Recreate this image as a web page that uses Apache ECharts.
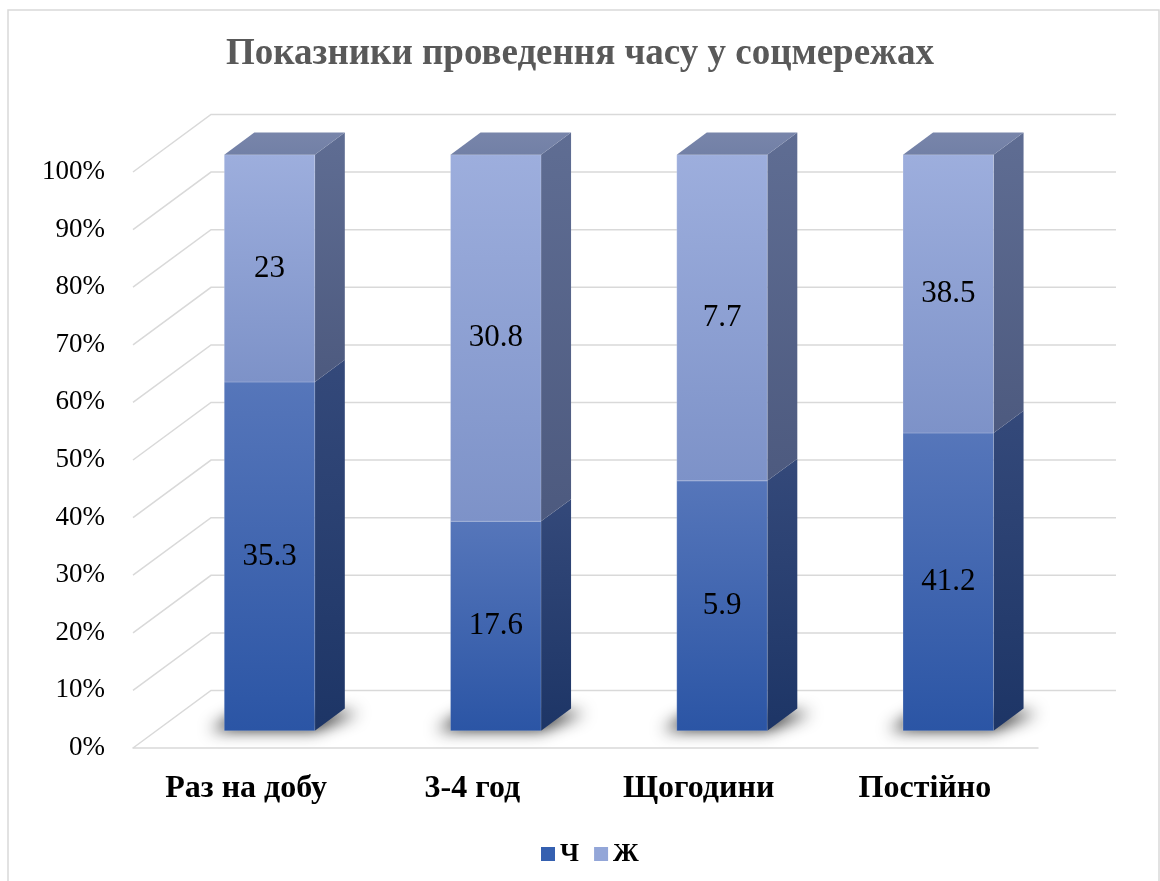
<!DOCTYPE html>
<html>
<head>
<meta charset="utf-8">
<script src="https://cdn.jsdelivr.net/npm/echarts@6/dist/echarts.min.js"></script>
<style>
  html, body { margin: 0; padding: 0; background: #fff; }
  #chart { width: 1160px; height: 881px; }
</style>
</head>
<body>
<div id="chart"></div>
<script>
// Categories and raw values of the two groups
const categories = ['Раз на добу', '3-4 год', 'Щогодини', 'Постійно'];
const valuesCh = [35.3, 17.6, 5.9, 41.2];
const valuesZh = [23, 30.8, 7.7, 38.5];
const yTicks = [0, 10, 20, 30, 40, 50, 60, 70, 80, 90, 100];

const SERIF = "'Times New Roman', 'Liberation Serif', serif";

// Oblique projection of depth: front plane -> back wall
const DX = 78, DY = -57.5;
const BAR_FRONT = 0.30, BAR_BACK = 0.685;
const BAR_RATIO = 0.4;

function pctOf(i) {
  const total = valuesCh[i] + valuesZh[i];
  return valuesCh[i] / total * 100;
}

function grad(top, bottom) {
  return new echarts.graphic.LinearGradient(0, 0, 0, 1, [
    { offset: 0, color: top }, { offset: 1, color: bottom }
  ]);
}

// One stacked segment of a 3D column: front face, side face, optional top face, label
function segment(api, i, lo, hi, pal, withTop, text) {
  const cx = api.coord([i, 0])[0];
  const yLo = api.coord([i, lo])[1];
  const yHi = api.coord([i, hi])[1];
  const w = api.size([1, 0])[0] * BAR_RATIO;
  const fx = DX * BAR_FRONT, fy = DY * BAR_FRONT;
  const sdx = DX * (BAR_BACK - BAR_FRONT), sdy = DY * (BAR_BACK - BAR_FRONT);
  const L = cx - w / 2 + fx, R = cx + w / 2 + fx;
  const top = yHi + fy, bot = yLo + fy;
  const children = [
    { type: 'polygon', shape: { points: [[R, bot], [R, top], [R + sdx, top + sdy], [R + sdx, bot + sdy]] },
      style: { fill: grad(pal.sideTop, pal.sideBottom) } },
    { type: 'rect', shape: { x: L, y: top, width: w, height: bot - top },
      style: { fill: grad(pal.frontTop, pal.frontBottom), stroke: 'rgba(255,255,255,0.18)', lineWidth: 1 } }
  ];
  if (withTop) {
    children.push({ type: 'polygon',
      shape: { points: [[L, top], [R, top], [R + sdx, top + sdy], [L + sdx, top + sdy]] },
      style: { fill: grad('#7885AA', '#7280A6') } });
  }
  children.push({ type: 'text',
    style: { x: L + w / 2, y: (top + bot) / 2, text: text, align: 'center', verticalAlign: 'middle',
      font: '31px ' + SERIF, fill: '#000' } });
  return { type: 'group', children: children };
}

const PAL_CH = { frontTop: '#5676BA', frontBottom: '#2B55A5', sideTop: '#34497A', sideBottom: '#1D3566' };
const PAL_ZH = { frontTop: '#9DAEDD', frontBottom: '#7D92C8', sideTop: '#5F6D93', sideBottom: '#4D5A7F' };

const chart = echarts.init(document.getElementById('chart'), null, { renderer: 'canvas' });

chart.setOption({
  backgroundColor: '#fff',
  animation: false,
  title: {
    text: 'Показники проведення часу у соцмережах',
    left: 'center', top: 31,
    textStyle: { fontFamily: SERIF, fontWeight: 'bold', fontSize: 37, color: '#595959' }
  },
  legend: {
    top: 836, left: 536,
    itemWidth: 14, itemHeight: 14, itemGap: 15,
    textStyle: { fontFamily: SERIF, fontWeight: 'bold', fontSize: 26, color: '#000' },
    data: [
      { name: 'Ч', icon: 'rect', itemStyle: { color: '#3560B0' } },
      { name: 'Ж', icon: 'rect', itemStyle: { color: '#93A6D8' } }
    ]
  },
  grid: { left: 133, right: 122, top: 172, bottom: 133 },
  xAxis: {
    type: 'category', data: categories,
    axisLine: { show: true, lineStyle: { color: '#D9D9D9', width: 1.5 } },
    axisTick: { show: false },
    axisLabel: { margin: 25, fontFamily: SERIF, fontWeight: 'bold', fontSize: 32, color: '#000' }
  },
  yAxis: {
    type: 'value', min: 0, max: 100, interval: 10,
    axisLine: { show: false }, axisTick: { show: false }, splitLine: { show: false },
    axisLabel: { margin: 28, formatter: '{value}%', fontFamily: SERIF, fontSize: 27, color: '#000' }
  },
  graphic: [
    { type: 'rect', shape: { x: 8, y: 10, width: 1151, height: 900 }, z: -10,
      style: { fill: 'none', stroke: '#D9D9D9', lineWidth: 1.5 } }
  ],
  series: [
    {
      // side wall + back wall gridlines
      type: 'custom', name: 'walls', silent: true, z: 1,
      data: yTicks.map(v => [0, v]),
      encode: { x: 0, y: 1 },
      renderItem: function (params, api) {
        const cs = params.coordSys;
        const y = api.coord([0, api.value(1)])[1];
        const left = cs.x, right = cs.x + cs.width;
        return { type: 'polyline',
          shape: { points: [[left, y], [left + DX, y + DY], [right + DX, y + DY]] },
          style: { stroke: '#D9D9D9', lineWidth: 1.5, fill: null } };
      }
    },
    {
      // soft shadows on the floor
      type: 'custom', name: 'shadow', silent: true, z: 2,
      data: categories.map((c, i) => [i, 0]),
      encode: { x: 0, y: 1 },
      renderItem: function (params, api) {
        const i = api.value(0);
        const cx = api.coord([i, 0])[0];
        const y0 = api.coord([i, 0])[1];
        const w = api.size([1, 0])[0] * BAR_RATIO;
        const fx = DX * BAR_FRONT, fy = DY * BAR_FRONT;
        const bx = DX * BAR_BACK, by = DY * BAR_BACK;
        const off = 3000;
        const pts = [
          [cx - w / 2 + fx - 14, y0 + fy - 1],
          [cx + w / 2 + fx, y0 + fy - 1],
          [cx + w / 2 + bx + 14, y0 + by + 4],
          [cx - w / 2 + bx - 14, y0 + by + 4]
        ].map(p => [p[0] - off, p[1]]);
        return { type: 'polygon', shape: { points: pts },
          style: { fill: '#000', shadowColor: 'rgba(0,0,0,0.9)', shadowBlur: 16, shadowOffsetX: off, shadowOffsetY: 0 } };
      }
    },
    {
      type: 'custom', name: 'Ч', z: 3,
      itemStyle: { color: '#3560B0' },
      data: categories.map((c, i) => [i, pctOf(i)]),
      encode: { x: 0, y: 1 },
      renderItem: function (params, api) {
        const i = api.value(0);
        return segment(api, i, 0, pctOf(i), PAL_CH, false, String(valuesCh[i]));
      }
    },
    {
      type: 'custom', name: 'Ж', z: 4,
      itemStyle: { color: '#93A6D8' },
      data: categories.map((c, i) => [i, 100]),
      encode: { x: 0, y: 1 },
      renderItem: function (params, api) {
        const i = api.value(0);
        return segment(api, i, pctOf(i), 100, PAL_ZH, true, String(valuesZh[i]));
      }
    }
  ]
});
</script>
</body>
</html>
